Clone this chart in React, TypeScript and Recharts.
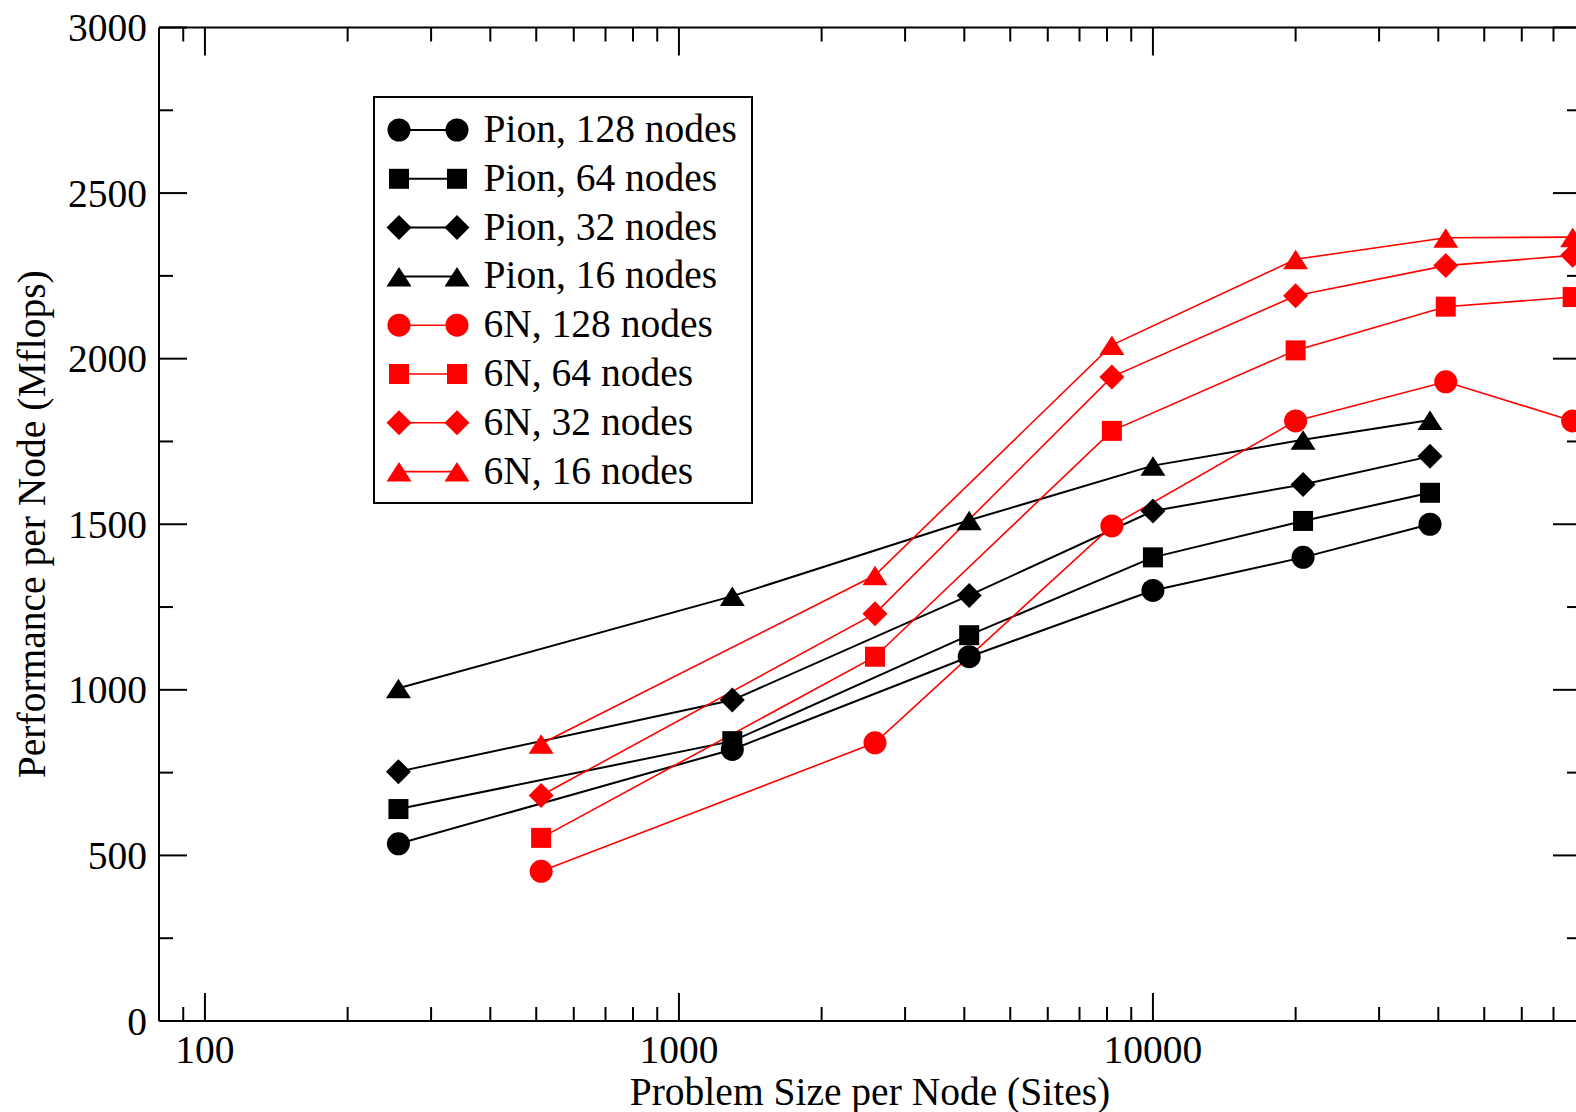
import React from 'react';
import { LineChart, Line, XAxis, YAxis, Legend } from 'recharts';

// ---- data ----
const pionSizes = [256, 1296, 4096, 10000, 20736, 38416];
const sixNSizes = [512, 2592, 8192, 20000, 41472, 76832];

const pion128 = [535, 820, 1100, 1300, 1400, 1500];
const pion64 = [640, 845, 1165, 1400, 1510, 1595];
const pion32 = [753, 969, 1285, 1540, 1620, 1705];
const pion16 = [1005, 1283, 1512, 1677, 1755, 1815];

const sixN128 = [452, 840, 1495, 1812, 1930, 1812];
const sixN64 = [553, 1100, 1782, 2025, 2157, 2186];
const sixN32 = [681, 1230, 1945, 2190, 2281, 2312];
const sixN16 = [837, 1346, 2041, 2300, 2365, 2367];

const seriesNames = [
  'Pion, 128 nodes',
  'Pion, 64 nodes',
  'Pion, 32 nodes',
  'Pion, 16 nodes',
  '6N, 128 nodes',
  '6N, 64 nodes',
  '6N, 32 nodes',
  '6N, 16 nodes',
];

const xMajorTicks = [100, 1000, 10000];
const xTickLabels = ['100', '1000', '10000'];
const xAllTicks = [
  90, 100, 200, 300, 400, 500, 600, 700, 800, 900,
  1000, 2000, 3000, 4000, 5000, 6000, 7000, 8000, 9000,
  10000, 20000, 30000, 40000, 50000, 60000, 70000,
];
const yAllTicks = [0, 250, 500, 750, 1000, 1250, 1500, 1750, 2000, 2250, 2500, 2750, 3000];
const yMajorTicks = [0, 500, 1000, 1500, 2000, 2500, 3000];

const xTitle = 'Problem Size per Node (Sites)';
const yTitle = 'Performance per Node (Mflops)';

const FONT = '"Liberation Serif", "Times New Roman", Times, serif';
const FS = 39.5;
const RED = '#ff0000';
const BLACK = '#000000';

const toPoints = (xs: number[], ys: number[]) => xs.map((x, i) => ({ x, y: ys[i] }));

const series = [
  { name: seriesNames[0], data: toPoints(pionSizes, pion128), color: BLACK, shape: 'circle' },
  { name: seriesNames[1], data: toPoints(pionSizes, pion64), color: BLACK, shape: 'square' },
  { name: seriesNames[2], data: toPoints(pionSizes, pion32), color: BLACK, shape: 'diamond' },
  { name: seriesNames[3], data: toPoints(pionSizes, pion16), color: BLACK, shape: 'triangle' },
  { name: seriesNames[4], data: toPoints(sixNSizes, sixN128), color: RED, shape: 'circle' },
  { name: seriesNames[5], data: toPoints(sixNSizes, sixN64), color: RED, shape: 'square' },
  { name: seriesNames[6], data: toPoints(sixNSizes, sixN32), color: RED, shape: 'diamond' },
  { name: seriesNames[7], data: toPoints(sixNSizes, sixN16), color: RED, shape: 'triangle' },
];

function Marker({ shape, color, cx, cy }: { shape: string; color: string; cx: number; cy: number }) {
  if (cx == null || cy == null || isNaN(cx) || isNaN(cy)) return null;
  switch (shape) {
    case 'circle':
      return <circle cx={cx} cy={cy} r={11.5} fill={color} />;
    case 'square':
      return <rect x={cx - 10} y={cy - 10} width={20} height={20} fill={color} />;
    case 'diamond':
      return (
        <polygon
          points={`${cx},${cy - 12.5} ${cx + 12.5},${cy} ${cx},${cy + 12.5} ${cx - 12.5},${cy}`}
          fill={color}
        />
      );
    default:
      return (
        <polygon
          points={`${cx},${cy - 9.5} ${cx + 12.5},${cy + 10} ${cx - 12.5},${cy + 10}`}
          fill={color}
        />
      );
  }
}

const tickStroke = { stroke: '#000', strokeWidth: 2 };

const BottomTick = (props: any) => {
  const { x, y, payload } = props;
  const v = payload.value;
  const idx = xMajorTicks.indexOf(v);
  const major = idx >= 0;
  return (
    <g>
      <line x1={x} x2={x} y1={y} y2={y - (major ? 28 : 14)} {...tickStroke} />
      {major && (
        <text x={x} y={y + 42} textAnchor="middle" fontSize={FS} fontFamily={FONT} fill="#000">
          {xTickLabels[idx]}
        </text>
      )}
    </g>
  );
};

const TopTick = (props: any) => {
  const { x, y, payload } = props;
  const major = xMajorTicks.indexOf(payload.value) >= 0;
  return (
    <g>
      <line x1={x} x2={x} y1={y} y2={y + (major ? 28 : 14)} {...tickStroke} />
    </g>
  );
};

const LeftTick = (props: any) => {
  const { x, y, payload } = props;
  const major = yMajorTicks.indexOf(payload.value) >= 0;
  return (
    <g>
      <line x1={x} x2={x + (major ? 28 : 14)} y1={y} y2={y} {...tickStroke} />
      {major && (
        <text x={x - 12} y={y + 13.5} textAnchor="end" fontSize={FS} fontFamily={FONT} fill="#000">
          {String(payload.value)}
        </text>
      )}
    </g>
  );
};

const RightTick = (props: any) => {
  const { x, y, payload } = props;
  const major = yMajorTicks.indexOf(payload.value) >= 0;
  return (
    <g>
      <line x1={x} x2={x - (major ? 28 : 14)} y1={y} y2={y} {...tickStroke} />
    </g>
  );
};

const XTitle = (props: any) => {
  const vb = props.viewBox || {};
  return (
    <text
      x={vb.x + vb.width / 2}
      y={vb.y + 84}
      textAnchor="middle"
      fontSize={FS}
      fontFamily={FONT}
      fill="#000"
    >
      {xTitle}
    </text>
  );
};

const YTitle = (props: any) => {
  const vb = props.viewBox || {};
  const cx = vb.x + 45;
  const cy = vb.y + vb.height / 2;
  return (
    <text
      x={cx}
      y={cy}
      transform={`rotate(-90, ${cx}, ${cy})`}
      textAnchor="middle"
      fontSize={FS}
      fontFamily={FONT}
      fill="#000"
    >
      {yTitle}
    </text>
  );
};

const LegendBox = () => (
  <svg width={380} height={408} style={{ display: 'block' }}>
    <rect x={1} y={1} width={378} height={406} fill="#fff" stroke="#000" strokeWidth={2} />
    {series.map((s, i) => {
      const cy = 34 + i * 48.8;
      return (
        <g key={s.name}>
          <line x1={26} x2={84} y1={cy} y2={cy} stroke={s.color} strokeWidth={s.color === RED ? 1.6 : 2} />
          <Marker shape={s.shape} color={s.color} cx={26} cy={cy} />
          <Marker shape={s.shape} color={s.color} cx={84} cy={cy} />
          <text x={110.5} y={cy + 12} fontSize={FS} fontFamily={FONT} fill="#000">
            {s.name}
          </text>
        </g>
      );
    })}
  </svg>
);

export default function App() {
  return (
    <div
      style={{
        position: 'absolute',
        left: 0,
        top: 0,
        width: 1576,
        height: 1112,
        overflow: 'hidden',
        background: '#fff',
      }}
    >
      <LineChart
        width={1700}
        height={1112}
        margin={{ top: 0, right: 59, bottom: 0, left: 0 }}
        style={{ fontFamily: FONT }}
      >
        <XAxis
          xAxisId="bottom"
          type="number"
          dataKey="x"
          scale="log"
          domain={[80, 80000]}
          ticks={xAllTicks}
          interval={0}
          tickSize={0}
          tickMargin={0}
          tickLine={false}
          axisLine={{ stroke: '#000', strokeWidth: 2 }}
          height={91}
          tick={BottomTick}
          label={{ content: XTitle }}
        />
        <XAxis
          xAxisId="top"
          orientation="top"
          type="number"
          dataKey="x"
          scale="log"
          domain={[80, 80000]}
          ticks={xAllTicks}
          interval={0}
          tickSize={0}
          tickMargin={0}
          tickLine={false}
          axisLine={{ stroke: '#000', strokeWidth: 2 }}
          height={27.5}
          tick={TopTick}
        />
        <YAxis
          yAxisId="left"
          type="number"
          domain={[0, 3000]}
          ticks={yAllTicks}
          interval={0}
          tickSize={0}
          tickMargin={0}
          tickLine={false}
          axisLine={{ stroke: '#000', strokeWidth: 2 }}
          width={159}
          tick={LeftTick}
          label={{ content: YTitle }}
        />
        <YAxis
          yAxisId="right"
          orientation="right"
          type="number"
          domain={[0, 3000]}
          ticks={yAllTicks}
          interval={0}
          tickSize={0}
          tickMargin={0}
          tickLine={false}
          axisLine={{ stroke: '#000', strokeWidth: 2 }}
          width={60}
          tick={RightTick}
        />
        <Legend
          layout="vertical"
          align="center"
          verticalAlign="middle"
          wrapperStyle={{ position: 'absolute', left: 373, top: 96, width: 380, height: 408, margin: 0, padding: 0 }}
          content={() => <LegendBox />}
        />
        {/* invisible carrier so the mirrored top/right axes get a domain and draw their ticks */}
        <Line
          data={series[0].data}
          dataKey="y"
          xAxisId="top"
          yAxisId="right"
          stroke="none"
          dot={false}
          activeDot={false}
          legendType="none"
          isAnimationActive={false}
        />
        {series.map((s) => (
          <Line
            key={s.name}
            name={s.name}
            data={s.data}
            dataKey="y"
            xAxisId="bottom"
            yAxisId="left"
            type="linear"
            stroke={s.color}
            strokeWidth={s.color === RED ? 1.6 : 2}
            isAnimationActive={false}
            dot={(p: any) => (
              <Marker key={`${s.name}-${p.index}`} shape={s.shape} color={s.color} cx={p.cx} cy={p.cy} />
            )}
            activeDot={false}
          />
        ))}
      </LineChart>
    </div>
  );
}
